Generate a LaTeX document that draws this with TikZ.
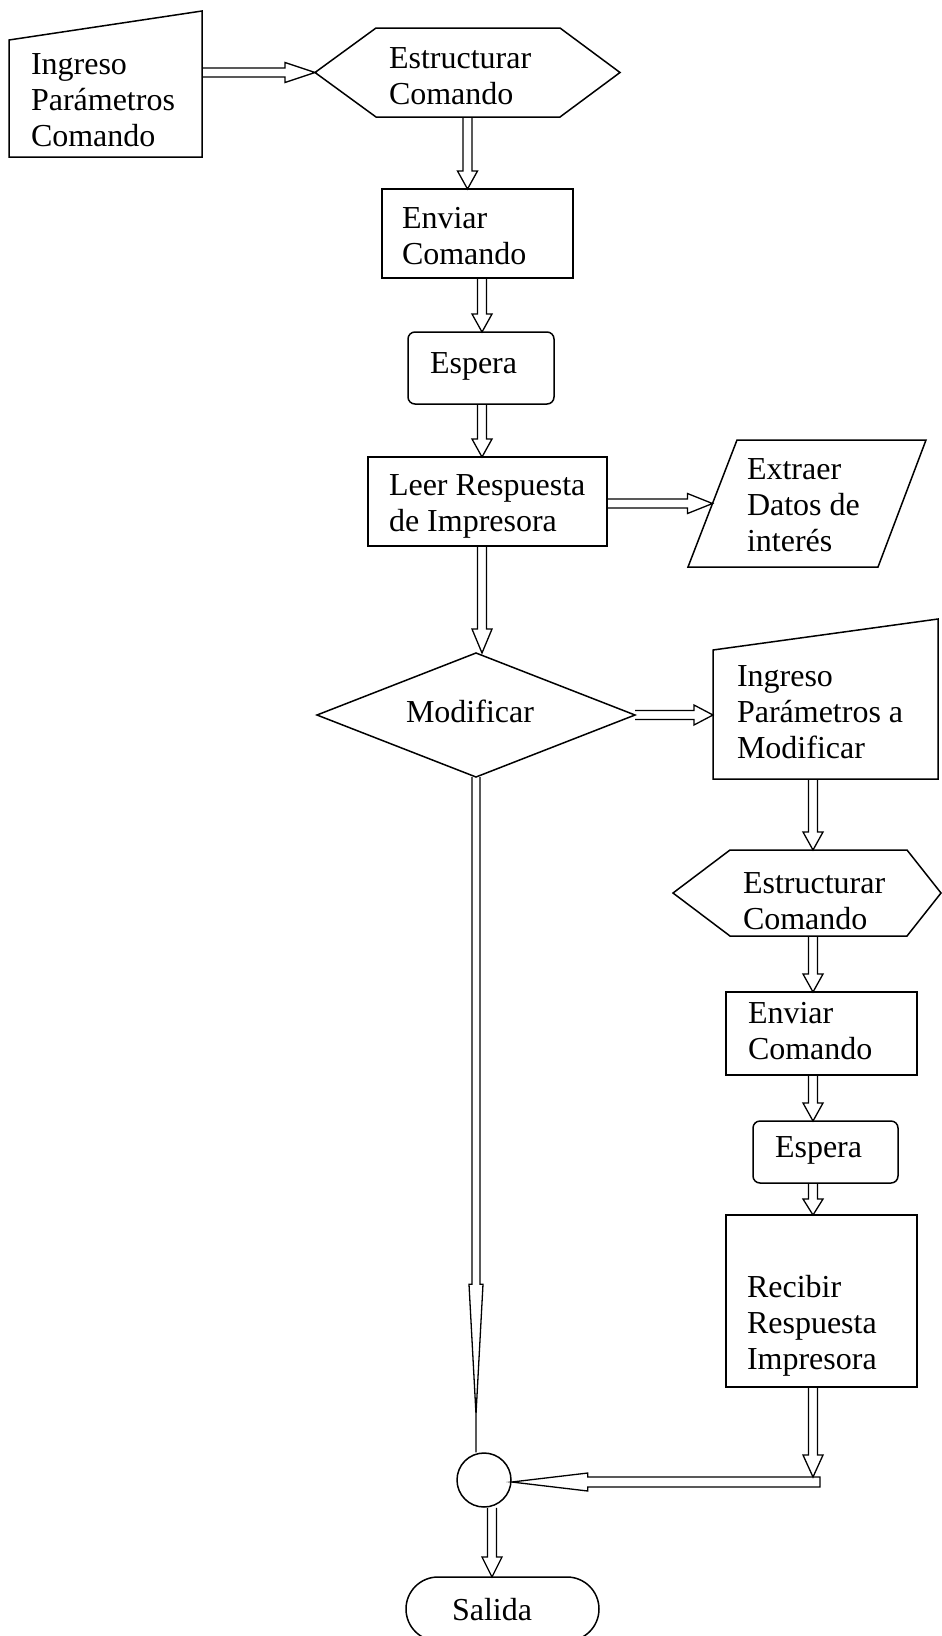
\documentclass[tikz,border=0pt]{standalone}
\usepackage{fontspec}
\setmainfont{Liberation Serif}
\usetikzlibrary{calc}

\tikzset{
  shapebox/.style={rectangle, inner sep=0pt, outer sep=0pt},
  rectnode/.style={shapebox, draw, line width=1.5pt},
  roundnode/.style={rectnode, rounded corners=7pt},
  outline/.style={line width=1.5pt, line join=miter},
  lbl/.style={anchor=north west, inner sep=0pt, outer sep=0pt, align=left,
              font=\fontsize{32}{36}\selectfont},
  conn/.style={line width=1.3pt, line join=miter},
  % hollow arrow pointing right, head length #1
  harrow/.style={to path={let \p1=(\tikztostart), \p2=(\tikztotarget) in
    (\x1,\y1+4.5pt) -- (\x2-#1,\y1+4.5pt) -- (\x2-#1,\y1+10pt) -- (\x2,\y1)
    -- (\x2-#1,\y1-10pt) -- (\x2-#1,\y1-4.5pt) -- (\x1,\y1-4.5pt)}},
  harrow/.default=22pt,
  % hollow arrow pointing down, head length #1
  varrow/.style={to path={let \p1=(\tikztostart), \p2=(\tikztotarget) in
    (\x1-4.5pt,\y1) -- (\x1-4.5pt,\y2+#1) -- (\x1-10pt,\y2+#1) -- (\x1,\y2)
    -- (\x1+10pt,\y2+#1) -- (\x1+4.5pt,\y2+#1) -- (\x1+4.5pt,\y1)}},
  varrow/.default=18pt,
  % long downward arrow with a slender head and a plain tail into the joint
  longarrow/.style={to path={let \p1=(\tikztostart), \p2=(\tikztotarget) in
    (\x1-4pt,\y1) -- (\x1-4pt,\y2+168pt) -- (\x1-7pt,\y2+168pt) -- (\x1,\y2+38pt)
    -- (\x1+7pt,\y2+168pt) -- (\x1+4pt,\y2+168pt) -- (\x1+4pt,\y1)
    (\x1,\y2+38pt) -- (\x1,\y2)}},
  % closed band pointing left with a long slender head
  larrow/.style={to path={let \p1=(\tikztostart), \p2=(\tikztotarget) in
    (\x1,\y1+5pt) -- (\x2+76pt,\y1+5pt) -- (\x2+76pt,\y1+9pt) -- (\x2,\y1)
    -- (\x2+76pt,\y1-9pt) -- (\x2+76pt,\y1-5pt) -- (\x1,\y1-5pt) -- cycle}},
}

\begin{document}
\begin{tikzpicture}[x=1pt, y=-1pt]
\fill[white] (0,0) rectangle (942,1636);
\useasboundingbox (0,0) rectangle (942,1636);

% ---------- main column ----------
% manual input: command parameters
\node[shapebox, minimum width=193pt, minimum height=146pt] (in1) at (105.5,84) {};
\draw[outline] ([yshift=-29pt]in1.north west) -- (in1.north east)
  -- (in1.south east) -- (in1.south west) -- cycle;
\node[lbl] (in1t) at (31,49) {\strut Ingreso\\\strut Parámetros\\\strut Comando};

% preparation: build command
\node[shapebox, minimum width=305pt, minimum height=89pt] (hex1) at (467.5,72.5) {};
\draw[outline] (hex1.west) -- ([xshift=61pt]hex1.north west)
  -- ([xshift=-60pt]hex1.north east) -- (hex1.east)
  -- ([xshift=-60pt]hex1.south east) -- ([xshift=61pt]hex1.south west) -- cycle;
\node[lbl] (hex1t) at (389,43) {\strut Estructurar\\\strut Comando};

\node[rectnode, minimum width=191pt, minimum height=89pt] (env1) at (477.5,233.5) {};
\node[lbl] (env1t) at (402,203) {\strut Enviar\\\strut Comando};

\node[roundnode, minimum width=146pt, minimum height=72pt] (esp1) at (481,368) {};
\node[lbl] (esp1t) at (430,348) {\strut Espera};

\node[rectnode, minimum width=239pt, minimum height=89pt] (leer) at (487.5,501.5) {};
\node[lbl] (leert) at (389,470) {\strut Leer Respuesta\\\strut de Impresora};

% data output
\node[shapebox, minimum width=238pt, minimum height=127pt] (ext) at (807,503.5) {};
\draw[outline] ([xshift=49pt]ext.north west) -- (ext.north east)
  -- ([xshift=-48pt]ext.south east) -- (ext.south west) -- cycle;
\node[lbl] (extt) at (747,454) {\strut Extraer\\\strut Datos de\\\strut interés};
\coordinate (extin) at ($([xshift=49pt]ext.north west)!0.5!(ext.south west)$);

% decision
\node[shapebox, minimum width=318pt, minimum height=124pt] (dia) at (476,715) {};
\draw[outline] (dia.west) -- (dia.north) -- (dia.east) -- (dia.south) -- cycle;
\node[lbl] (diat) at (406,697) {\strut Modificar};

% ---------- modification branch ----------
\node[shapebox, minimum width=225pt, minimum height=160pt] (in2) at (825.5,699) {};
\draw[outline] ([yshift=-31pt]in2.north west) -- (in2.north east)
  -- (in2.south east) -- (in2.south west) -- cycle;
\node[lbl] (in2t) at (737,661) {\strut Ingreso\\\strut Parámetros a\\\strut Modificar};

\node[shapebox, minimum width=268pt, minimum height=86pt] (hex2) at (807,893) {};
\draw[outline] (hex2.west) -- ([xshift=57pt]hex2.north west)
  -- ([xshift=-34pt]hex2.north east) -- (hex2.east)
  -- ([xshift=-34pt]hex2.south east) -- ([xshift=57pt]hex2.south west) -- cycle;
\node[lbl] (hex2t) at (743,868) {\strut Estructurar\\\strut Comando};

\node[rectnode, minimum width=191pt, minimum height=83pt] (env2) at (821.5,1033.5) {};
\node[lbl] (env2t) at (748,998) {\strut Enviar\\\strut Comando};

\node[roundnode, minimum width=145pt, minimum height=62pt] (esp2) at (825.5,1152) {};
\node[lbl] (esp2t) at (775,1132) {\strut Espera};

\node[rectnode, minimum width=191pt, minimum height=172pt] (rec) at (821.5,1301) {};
\node[lbl] (rect) at (747,1272) {\strut Recibir\\\strut Respuesta\\\strut Impresora};

% ---------- joint and end ----------
\node[draw, circle, minimum size=54pt, inner sep=0pt, line width=1.5pt] (circ) at (484,1480) {};
\node[rectnode, rounded corners=32pt, minimum width=193pt, minimum height=64pt] (sal) at (502.5,1609) {};
\node[lbl] (salt) at (452,1595) {\strut Salida};

% ---------- helper coordinates ----------
\coordinate (lcol) at (482,0);
\coordinate (rcol) at (813,0);
\coordinate (drop) at (813,1477);
\coordinate (bandend) at (820,1482);

% ---------- connectors ----------
\draw[conn] (in1.east |- hex1.west) to[harrow=30pt] (hex1.west);
\draw[conn] (hex1.south) to[varrow] (hex1.south |- env1.north);
\draw[conn] (env1.south -| lcol) to[varrow] (esp1.north -| lcol);
\draw[conn] (esp1.south -| lcol) to[varrow] (leer.north -| lcol);
\draw[conn] (leer.east |- extin) to[harrow=25pt] (extin);
\draw[conn] (leer.south -| lcol) to[varrow=24pt] (dia.north -| lcol);
\draw[conn] (dia.east) to[harrow=19pt] (dia.east -| in2.west);
\draw[conn] (dia.south) to[longarrow] (circ.north);

\draw[conn] (in2.south -| rcol) to[varrow] (hex2.north -| rcol);
\draw[conn] (hex2.south -| rcol) to[varrow] (env2.north -| rcol);
\draw[conn] (env2.south -| rcol) to[varrow] (esp2.north -| rcol);
\draw[conn] (esp2.south -| rcol) to[varrow=16pt] (rec.north -| rcol);
\draw[conn] (rec.south -| rcol) to[varrow=22pt] (drop);
\draw[conn] (bandend) to[larrow] (circ.east);
\draw[conn] ([xshift=8pt]circ.south) to[varrow=20pt] ([xshift=8pt]circ.south |- sal.north);
\end{tikzpicture}
\end{document}
